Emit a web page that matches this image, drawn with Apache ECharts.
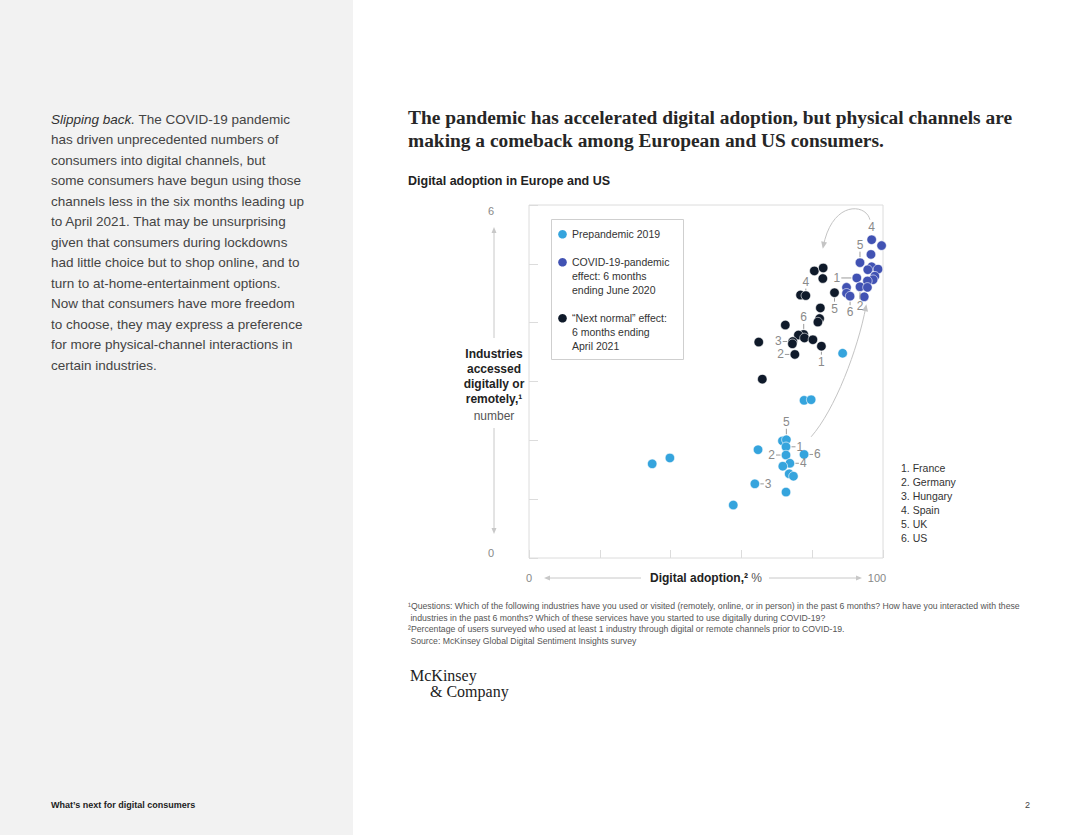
<!DOCTYPE html>
<html><head><meta charset="utf-8">
<script src="https://cdn.jsdelivr.net/npm/echarts/dist/echarts.min.js"></script>
<style>html,body{margin:0;padding:0;background:#fff}#chart{width:1080px;height:835px}</style>
</head><body><div id="chart"></div>
<script>
// ---- Data ----
const prepandemicX = [77.7, 79.7, 71.6, 72.7, 72.6, 64.7, 72.6, 77.7, 73.7, 71.7, 73.5, 74.7, 63.8, 72.6, 57.7, 34.8, 39.8, 88.6];
const prepandemicY = [2.68, 2.69, 1.99, 2.01, 1.89, 1.84, 1.75, 1.76, 1.61, 1.56, 1.43, 1.39, 1.26, 1.12, 0.90, 1.60, 1.70, 3.48];
const pandemicX = [96.8, 99.6, 96.6, 93.5, 96.8, 95.7, 98.6, 97.7, 97.2, 92.6, 95.6, 93.5, 95.6, 89.7, 89.7, 90.7, 94.7];
const pandemicY = [5.41, 5.31, 5.16, 5.02, 4.95, 4.90, 4.91, 4.79, 4.73, 4.76, 4.71, 4.61, 4.60, 4.60, 4.50, 4.45, 4.44];
const nextNormalX = [80.6, 83.1, 83.0, 76.7, 78.2, 86.3, 82.3, 82.1, 81.6, 72.4, 77.6, 76.1, 77.8, 74.5, 74.4, 80.2, 82.6, 64.9, 75.1, 65.9];
const nextNormalY = [4.88, 4.93, 4.75, 4.47, 4.46, 4.51, 4.25, 4.07, 4.01, 3.96, 3.80, 3.79, 3.74, 3.68, 3.64, 3.71, 3.60, 3.67, 3.46, 3.04];
// country labels: [point index, label, side, leader length]
const prepandemicLabels = [[3,'5','top',5.5],[4,'1','right',4],[6,'2','left',4.5],[7,'6','right',3.5],[8,'4','right',3.5],[12,'3','right',3.5]];
const pandemicLabels = [[0,'4','top',0],[3,'5','top',5.5],[9,'1','left',10],[15,'6','bottom',3.5],[11,'2','bottom',7]];
const nextNormalLabels = [[4,'4','top',1.5],[5,'5','bottom',3.5],[10,'6','top',5],[13,'3','left',4.5],[18,'2','left',4.5],[16,'1','bottom',3]];
// curved arrows (cubic bezier control points in data space)
const arrowPaths = [
  [96.3, 5.75, 95.2, 6.03, 85.6, 6.08, 83.1, 5.29],
  [79.7, 2.06, 86.4, 2.52, 92.9, 3.54, 95.2, 4.28]
];
const xTickLabels = ['0', '100'];
const yTickLabels = ['0', '6'];
const countries = ['1. France', '2. Germany', '3. Hungary', '4. Spain', '5. UK', '6. US'];
const seriesNames = ['Prepandemic 2019', 'COVID-19-pandemic\neffect: 6 months\nending June 2020', '\u201cNext normal\u201d effect:\n6 months ending\nApril 2021'];
const seriesColors = ['#35a4dd', '#4152b3', '#0f1a2a'];

const bodyLines = [
  'has driven unprecedented numbers of',
  'consumers into digital channels, but',
  'some consumers have begun using those',
  'channels less in the six months leading up',
  'to April 2021. That may be unsurprising',
  'given that consumers during lockdowns',
  'had little choice but to shop online, and to',
  'turn to at-home-entertainment options.',
  'Now that consumers have more freedom',
  'to choose, they may express a preference',
  'for more physical-channel interactions in',
  'certain industries.'
];
const footnotes = [
  '\u00b9Questions: Which of the following industries have you used or visited (remotely, online, or in person) in the past 6 months? How have you interacted with these',
  ' industries in the past 6 months? Which of these services have you started to use digitally during COVID-19?',
  '\u00b2Percentage of users surveyed who used at least 1 industry through digital or remote channels prior to COVID-19.',
  ' Source: McKinsey Global Digital Sentiment Insights survey'
];

// ---- build ----
const SANS = '"Liberation Sans", Arial, sans-serif';
const SERIF = '"Liberation Serif", "Times New Roman", serif';
function pairs(xs, ys) { return xs.map((x, i) => [x, ys[i]]); }
function labelItems(xs, ys, labels) { return labels.map(l => [xs[l[0]], ys[l[0]], l[1], l[2], l[3]]); }
const labelData = [].concat(
  labelItems(prepandemicX, prepandemicY, prepandemicLabels),
  labelItems(pandemicX, pandemicY, pandemicLabels),
  labelItems(nextNormalX, nextNormalY, nextNormalLabels)
);

const chart = echarts.init(document.getElementById('chart'), null, {renderer: 'svg', width: 1080, height: 835});

const graphics = [];
// left panel
graphics.push({type: 'rect', shape: {x: 0, y: 0, width: 353, height: 835}, style: {fill: '#f2f2f2'}, z: -10});
graphics.push({type: 'text', x: 51, y: 119, style: {
  text: '{i|Slipping back.}{n| The COVID-19 pandemic}', verticalAlign: 'middle',
  rich: {i: {font: 'italic 13.5px ' + SANS, fill: '#333'}, n: {font: '13.5px ' + SANS, fill: '#444'}}
}});
bodyLines.forEach((t, i) => graphics.push({type: 'text', x: 51, y: 139.5 + i * 20.5, style: {text: t, font: '13.5px ' + SANS, fill: '#444', verticalAlign: 'middle'}}));
graphics.push({type: 'text', x: 51, y: 805, style: {text: 'What\u2019s next for digital consumers', font: 'bold 9px ' + SANS, fill: '#222', verticalAlign: 'middle'}});
graphics.push({type: 'text', x: 1030, y: 805, style: {text: '2', font: '9px ' + SANS, fill: '#444', verticalAlign: 'middle', align: 'right'}});
// title
graphics.push({type: 'text', x: 408, y: 117, style: {text: 'The pandemic has accelerated digital adoption, but physical channels are', font: 'bold 19.4px ' + SERIF, fill: '#262626', verticalAlign: 'middle'}});
graphics.push({type: 'text', x: 408, y: 140, style: {text: 'making a comeback among European and US consumers.', font: 'bold 19.4px ' + SERIF, fill: '#262626', verticalAlign: 'middle'}});
graphics.push({type: 'text', x: 408, y: 181, style: {text: 'Digital adoption in Europe and US', font: 'bold 12.5px ' + SANS, fill: '#222', verticalAlign: 'middle'}});
// legend box
graphics.push({type: 'rect', shape: {x: 551.5, y: 219.5, width: 132, height: 140}, style: {fill: '#fff', stroke: '#cfcfcf', lineWidth: 1}, z: 50});
const legendY = [234.3, 262.3, 318.3];
seriesNames.forEach((n, i) => {
  graphics.push({type: 'circle', shape: {cx: 562.5, cy: legendY[i], r: 4.3}, style: {fill: seriesColors[i]}, z: 51});
  graphics.push({type: 'text', x: 572, y: legendY[i] - 7, style: {text: n, font: '10.5px ' + SANS, fill: '#333', lineHeight: 14, verticalAlign: 'top'}, z: 51});
});
// axis end labels
graphics.push({type: 'text', x: 491, y: 211, style: {text: yTickLabels[1], font: '11px ' + SANS, fill: '#888', align: 'center', verticalAlign: 'middle'}});
graphics.push({type: 'text', x: 491, y: 553, style: {text: yTickLabels[0], font: '11px ' + SANS, fill: '#888', align: 'center', verticalAlign: 'middle'}});
graphics.push({type: 'text', x: 529, y: 578, style: {text: xTickLabels[0], font: '11px ' + SANS, fill: '#888', align: 'center', verticalAlign: 'middle'}});
graphics.push({type: 'text', x: 877, y: 578, style: {text: xTickLabels[1], font: '11px ' + SANS, fill: '#888', align: 'center', verticalAlign: 'middle'}});
// y axis title & arrows
const yTitle = [['Industries', 354, 'bold'], ['accessed', 369, 'bold'], ['digitally or', 384, 'bold'], ['remotely,\u00b9', 399, 'bold'], ['number', 415.5, 'normal']];
yTitle.forEach(t => graphics.push({type: 'text', x: 494, y: t[1], style: {text: t[0], font: t[2] + ' 12px ' + SANS, fill: t[2] === 'bold' ? '#222' : '#555', align: 'center', verticalAlign: 'middle'}}));
graphics.push({type: 'line', shape: {x1: 494, y1: 232, x2: 494, y2: 338}, style: {stroke: '#c8c8c8', lineWidth: 1}});
graphics.push({type: 'polygon', shape: {points: [[494, 227], [491.5, 233], [496.5, 233]]}, style: {fill: '#c8c8c8'}});
graphics.push({type: 'line', shape: {x1: 494, y1: 428, x2: 494, y2: 529}, style: {stroke: '#c8c8c8', lineWidth: 1}});
graphics.push({type: 'polygon', shape: {points: [[494, 534], [491.5, 528], [496.5, 528]]}, style: {fill: '#c8c8c8'}});
// x axis title & arrows
graphics.push({type: 'text', x: 706, y: 578, style: {
  text: '{b|Digital adoption,\u00b2} {r|%}', align: 'center', verticalAlign: 'middle',
  rich: {b: {font: 'bold 12px ' + SANS, fill: '#222'}, r: {font: '12px ' + SANS, fill: '#555'}}
}});
graphics.push({type: 'line', shape: {x1: 549, y1: 578, x2: 641, y2: 578}, style: {stroke: '#c8c8c8', lineWidth: 1}});
graphics.push({type: 'polygon', shape: {points: [[544, 578], [550, 575.5], [550, 580.5]]}, style: {fill: '#c8c8c8'}});
graphics.push({type: 'line', shape: {x1: 769, y1: 578, x2: 857, y2: 578}, style: {stroke: '#c8c8c8', lineWidth: 1}});
graphics.push({type: 'polygon', shape: {points: [[862, 578], [856, 575.5], [856, 580.5]]}, style: {fill: '#c8c8c8'}});
// country key
countries.forEach((c, i) => graphics.push({type: 'text', x: 901, y: 468 + i * 14, style: {text: c, font: '10.5px ' + SANS, fill: '#333', verticalAlign: 'middle'}}));
// footnotes
footnotes.forEach((f, i) => graphics.push({type: 'text', x: 408, y: 606 + i * 11.7, style: {text: f, font: '8.7px ' + SANS, fill: '#555', verticalAlign: 'middle'}}));
// logo
graphics.push({type: 'text', x: 410, y: 675, style: {text: 'McKinsey', font: '16px ' + SERIF, fill: '#222', verticalAlign: 'middle'}});
graphics.push({type: 'text', x: 430, y: 691, style: {text: '& Company', font: '16px ' + SERIF, fill: '#222', verticalAlign: 'middle'}});

function scatterSeries(name, data, color) {
  return {
    name: name, type: 'scatter', data: data, symbolSize: 9.5, z: 3,
    itemStyle: {color: color, borderColor: '#fff', borderWidth: 0.6, opacity: 1},
    emphasis: {disabled: true}, silent: true
  };
}

const option = {
  animation: false,
  backgroundColor: '#fff',
  grid: {left: 529, top: 205, width: 354, height: 353, show: true, borderColor: '#dcdcdc', borderWidth: 1, backgroundColor: 'transparent'},
  xAxis: {type: 'value', min: 0, max: 100, interval: 20,
    axisLine: {show: false}, axisTick: {show: true, inside: true, length: 8, lineStyle: {color: '#dcdcdc'}},
    axisLabel: {show: false}, splitLine: {show: false}},
  yAxis: {type: 'value', min: 0, max: 6, interval: 1,
    axisLine: {show: false}, axisTick: {show: true, inside: true, length: 9, lineStyle: {color: '#dcdcdc'}},
    axisLabel: {show: false}, splitLine: {show: false}},
  graphic: graphics,
  series: [
    {
      type: 'custom', name: 'arrows', coordinateSystem: 'cartesian2d', silent: true, z: 1,
      data: arrowPaths, encode: {x: 0, y: 1},
      renderItem: function (params, api) {
        const a = arrowPaths[params.dataIndex];
        const p0 = api.coord([a[0], a[1]]), p1 = api.coord([a[2], a[3]]), p2 = api.coord([a[4], a[5]]), p3 = api.coord([a[6], a[7]]);
        let dx = p3[0] - p2[0], dy = p3[1] - p2[1];
        const L = Math.sqrt(dx * dx + dy * dy); dx /= L; dy /= L;
        const px = -dy, py = dx;
        const tip = [p3[0] + dx * 2, p3[1] + dy * 2];
        const base = [p3[0] - dx * 5, p3[1] - dy * 5];
        return {type: 'group', children: [
          {type: 'bezierCurve', shape: {x1: p0[0], y1: p0[1], cpx1: p1[0], cpy1: p1[1], cpx2: p2[0], cpy2: p2[1], x2: p3[0], y2: p3[1]},
            style: {stroke: '#c4c4c4', lineWidth: 1, fill: null}},
          {type: 'polygon', shape: {points: [tip, [base[0] + px * 3, base[1] + py * 3], [base[0] - px * 3, base[1] - py * 3]]},
            style: {fill: '#c4c4c4'}}
        ]};
      }
    },
    scatterSeries('Prepandemic 2019', pairs(prepandemicX, prepandemicY), seriesColors[0]),
    scatterSeries('COVID-19-pandemic effect', pairs(pandemicX, pandemicY), seriesColors[1]),
    scatterSeries('Next normal effect', pairs(nextNormalX, nextNormalY), seriesColors[2]),
    {
      type: 'custom', name: 'country labels', coordinateSystem: 'cartesian2d', silent: true, z: 4,
      data: labelData.map(d => [d[0], d[1]]), encode: {x: 0, y: 1},
      renderItem: function (params, api) {
        const d = labelData[params.dataIndex];
        const p = api.coord([d[0], d[1]]);
        const side = d[3], len = d[4], r = 5.5;
        let x1, y1, x2, y2, tx, ty, align, va;
        if (side === 'top') { x1 = x2 = p[0]; y1 = p[1] - r; y2 = y1 - len; tx = p[0]; ty = y2 - 1; align = 'center'; va = 'bottom'; }
        else if (side === 'bottom') { x1 = x2 = p[0]; y1 = p[1] + r; y2 = y1 + len; tx = p[0]; ty = y2 + 1; align = 'center'; va = 'top'; }
        else if (side === 'left') { y1 = y2 = p[1]; x1 = p[0] - r; x2 = x1 - len; tx = x2 - 1; ty = p[1]; align = 'right'; va = 'middle'; }
        else { y1 = y2 = p[1]; x1 = p[0] + r; x2 = x1 + len; tx = x2 + 1; ty = p[1]; align = 'left'; va = 'middle'; }
        const ch = [];
        if (len > 0) ch.push({type: 'line', shape: {x1: x1, y1: y1, x2: x2, y2: y2}, style: {stroke: '#9a9a9a', lineWidth: 1}});
        ch.push({type: 'text', x: tx, y: ty, style: {text: d[2], font: '12px ' + SANS, fill: '#8a8a8a', align: align, verticalAlign: va}});
        return {type: 'group', children: ch};
      }
    }
  ]
};
chart.setOption(option);
</script>
</body></html>
